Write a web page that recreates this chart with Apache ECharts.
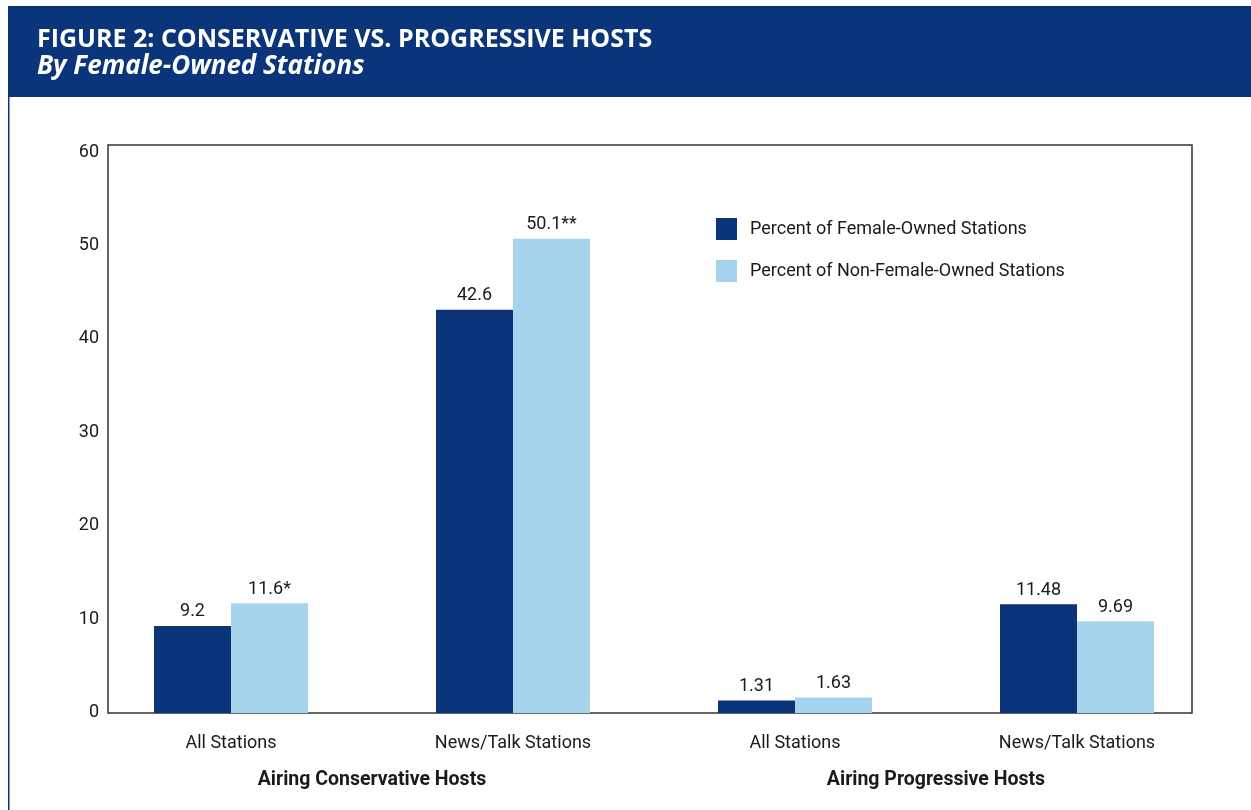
<!DOCTYPE html>
<html>
<head>
<meta charset="utf-8">
<script src="https://cdn.jsdelivr.net/npm/echarts@6/dist/echarts.min.js"></script>
<style>
  html, body { margin: 0; padding: 0; background: #fff; }
  #chart { width: 1251px; height: 810px; }
</style>
</head>
<body>
<div id="chart"></div>
<script>
var categories = ['All Stations', 'News/Talk Stations', 'All Stations', 'News/Talk Stations'];
var groups = ['Airing Conservative Hosts', 'Airing Progressive Hosts'];
var femaleOwned = [9.2, 42.6, 1.31, 11.48];
var nonFemaleOwned = [11.6, 50.1, 1.63, 9.69];
var femaleLabels = ['9.2', '42.6', '1.31', '11.48'];
var nonFemaleLabels = ['11.6*', '50.1**', '1.63', '9.69'];
var seriesNames = ['Percent of Female-Owned Stations', 'Percent of Non-Female-Owned Stations'];
var yTicks = [0, 10, 20, 30, 40, 50, 60];

var FONT = 'Roboto, "Liberation Sans Narrow", sans-serif';
var DARK = '#0b347a';
var LIGHT = '#a6d4ec';

var chart = echarts.init(document.getElementById('chart'));

var option = {
    backgroundColor: '#ffffff',
    animation: false,
    textStyle: { fontFamily: FONT },
    graphic: [
        { type: 'rect', left: 8, top: 6, shape: { width: 1243, height: 91 }, style: { fill: '#0b357a' } },
        { type: 'rect', left: 8, top: 97, shape: { width: 1.5, height: 713 }, style: { fill: '#0b357a' } },
        { type: 'text', left: 37, top: 27, style: { text: 'FIGURE 2: CONSERVATIVE VS. PROGRESSIVE HOSTS', fill: '#fff', font: 'bold 25px "Open Sans", sans-serif' } },
        { type: 'text', left: 37, top: 54, style: { text: 'By Female-Owned Stations', fill: '#fff', font: 'italic bold 26px "Open Sans", sans-serif' } }
    ],
    legend: {
        data: seriesNames,
        orient: 'vertical',
        left: 716,
        top: 218,
        padding: 0,
        itemWidth: 21,
        itemHeight: 22,
        itemGap: 20,
        icon: 'rect',
        textStyle: { fontSize: 18, color: '#1a1a1a', fontFamily: FONT, padding: [0, 0, 0, 8] }
    },
    grid: [
        // frame
        { left: 108, top: 145, width: 1084, height: 568, show: true, borderColor: '#333', borderWidth: 1.5, backgroundColor: 'transparent' },
        // bars
        { left: 90, top: 145, width: 1128, height: 568 },
        // y tick labels (sit slightly lower in the original)
        { left: 108, top: 152, width: 1084, height: 560.5 }
    ],
    xAxis: [
        { type: 'category', gridIndex: 0, data: categories, show: false },
        {
            type: 'category', gridIndex: 1, data: categories,
            axisLine: { show: false }, axisTick: { show: false },
            axisLabel: { fontSize: 18, color: '#1a1a1a', margin: 21, fontFamily: FONT }
        },
        {
            type: 'category', gridIndex: 1, data: groups, position: 'bottom', offset: 47,
            axisLine: { show: false }, axisTick: { show: false },
            axisLabel: { fontSize: 19.5, fontWeight: 'bold', color: '#1a1a1a', margin: 10, fontFamily: FONT }
        },
        { type: 'category', gridIndex: 2, data: categories, show: false }
    ],
    yAxis: [
        { type: 'value', gridIndex: 0, min: 0, max: 60, interval: 10, show: false },
        { type: 'value', gridIndex: 1, min: 0, max: 60, interval: 10, show: false },
        {
            type: 'value', gridIndex: 2, min: 0, max: 60, interval: 10,
            axisLine: { show: false }, axisTick: { show: false }, splitLine: { show: false },
            axisLabel: {
                fontSize: 18, color: '#1a1a1a', margin: 9, fontFamily: FONT,
                formatter: function (v) { return yTicks.indexOf(v) >= 0 ? String(v) : ''; }
            }
        }
    ],
    series: [
        {
            name: seriesNames[0], type: 'bar', xAxisIndex: 1, yAxisIndex: 1,
            data: femaleOwned, barWidth: 77, barGap: '0%',
            itemStyle: { color: DARK },
            label: {
                show: true, position: 'top', distance: 5, fontSize: 18, color: '#1a1a1a', fontFamily: FONT,
                formatter: function (p) { return femaleLabels[p.dataIndex]; }
            }
        },
        {
            name: seriesNames[1], type: 'bar', xAxisIndex: 1, yAxisIndex: 1,
            data: nonFemaleOwned, barWidth: 77, barGap: '0%',
            itemStyle: { color: LIGHT },
            label: {
                show: true, position: 'top', distance: 5, fontSize: 18, color: '#1a1a1a', fontFamily: FONT,
                formatter: function (p) { return nonFemaleLabels[p.dataIndex]; }
            }
        }
    ]
};

chart.setOption(option);
</script>
</body>
</html>
